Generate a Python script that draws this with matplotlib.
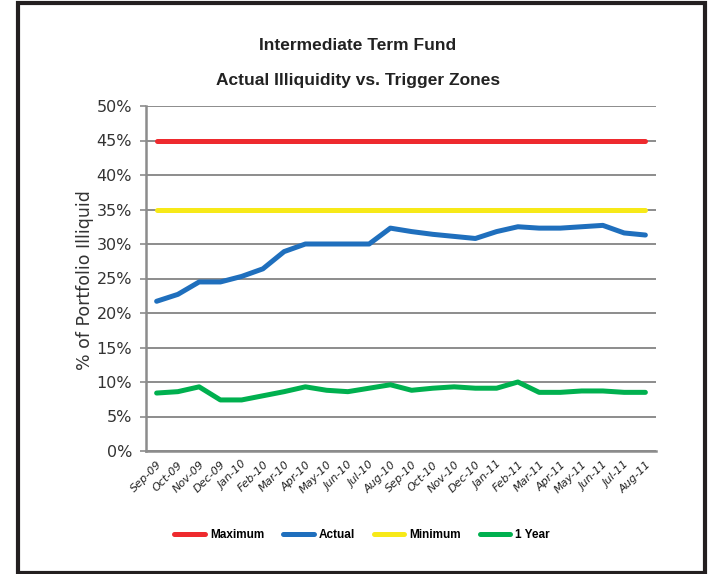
import matplotlib
matplotlib.use("Agg")
import matplotlib.pyplot as plt
from matplotlib.patches import Rectangle

# data
months = ["Sep-09", "Oct-09", "Nov-09", "Dec-09", "Jan-10", "Feb-10", "Mar-10", "Apr-10",
          "May-10", "Jun-10", "Jul-10", "Aug-10", "Sep-10", "Oct-10", "Nov-10", "Dec-10",
          "Jan-11", "Feb-11", "Mar-11", "Apr-11", "May-11", "Jun-11", "Jul-11", "Aug-11"]
maximum = [45] * 24
minimum = [35] * 24
actual = [21.7, 22.7, 24.5, 24.5, 25.3, 26.4, 28.9, 30.0, 30.0, 30.0, 30.0, 32.3,
          31.8, 31.4, 31.1, 30.8, 31.8, 32.5, 32.3, 32.3, 32.5, 32.7, 31.6, 31.3]
one_year = [8.4, 8.6, 9.3, 7.4, 7.4, 8.0, 8.6, 9.3, 8.8, 8.6, 9.1, 9.6,
            8.8, 9.1, 9.3, 9.1, 9.1, 10.0, 8.5, 8.5, 8.7, 8.7, 8.5, 8.5]
yticks = [0, 5, 10, 15, 20, 25, 30, 35, 40, 45, 50]

fig = plt.figure(figsize=(7.08, 5.74), dpi=100)
ax = fig.add_axes([146 / 708, 123 / 574, 510 / 708, 345 / 574])

x = range(len(months))
lw = 3.6
ax.plot(x, maximum, color="#ee2a2e", lw=lw, label="Maximum", solid_capstyle="round")
ax.plot(x, actual, color="#1f6fbd", lw=lw, label="Actual", solid_capstyle="round")
ax.plot(x, minimum, color="#f7e918", lw=lw, label="Minimum", solid_capstyle="round")
ax.plot(x, one_year, color="#00b04f", lw=lw, label="1 Year", solid_capstyle="round")

ax.set_xlim(-0.5, len(months) - 0.5)
ax.set_ylim(0, 50)
ax.set_yticks(yticks)
ax.set_yticklabels([f"{t}%" for t in yticks], fontsize=11.5, color="#333333")
ax.set_xticks(list(x))
ax.set_xticklabels(months, rotation=45, ha="right", rotation_mode="anchor",
                   fontsize=8, style="italic", color="#222222")
ax.tick_params(axis="x", length=0, pad=6)
ax.tick_params(axis="y", length=4, color="#8c8c8c", width=1.2, pad=6)
ax.grid(axis="y", color="#8c8c8c", lw=1.4)
ax.set_axisbelow(True)
for s in ["top", "right"]:
    ax.spines[s].set_visible(False)
for s in ["left", "bottom"]:
    ax.spines[s].set_color("#8c8c8c")
    ax.spines[s].set_linewidth(1.8)

fig.text(85 / 708, 1 - 280 / 574, "% of Portfolio Illiquid", rotation=90,
         ha="center", va="center", fontsize=12.5, color="#333333")

title_font = ["Liberation Sans", "DejaVu Sans"]
fig.text(358 / 708, 1 - 46 / 574, "Intermediate Term Fund", ha="center", va="center",
         fontsize=12.5, fontweight="bold", family=title_font, color="#222222")
fig.text(358 / 708, 1 - 80 / 574, "Actual Illiquidity vs. Trigger Zones", ha="center",
         va="center", fontsize=12.5, fontweight="bold", family=title_font, color="#222222")

leg = fig.legend(loc="center", bbox_to_anchor=(362 / 708, 1 - 535 / 574), ncol=4,
                 frameon=False, prop={"weight": "bold", "size": 8.5,
                                      "family": ["Liberation Sans", "DejaVu Sans"]},
                 handlelength=2.6, columnspacing=1.6, handletextpad=0.4)

fig.patches.append(Rectangle((18 / 708, 1 / 574), 687 / 708, 570 / 574,
                             transform=fig.transFigure, fill=False,
                             ec="#231f20", lw=3))

plt.savefig("out.png", dpi=100)
